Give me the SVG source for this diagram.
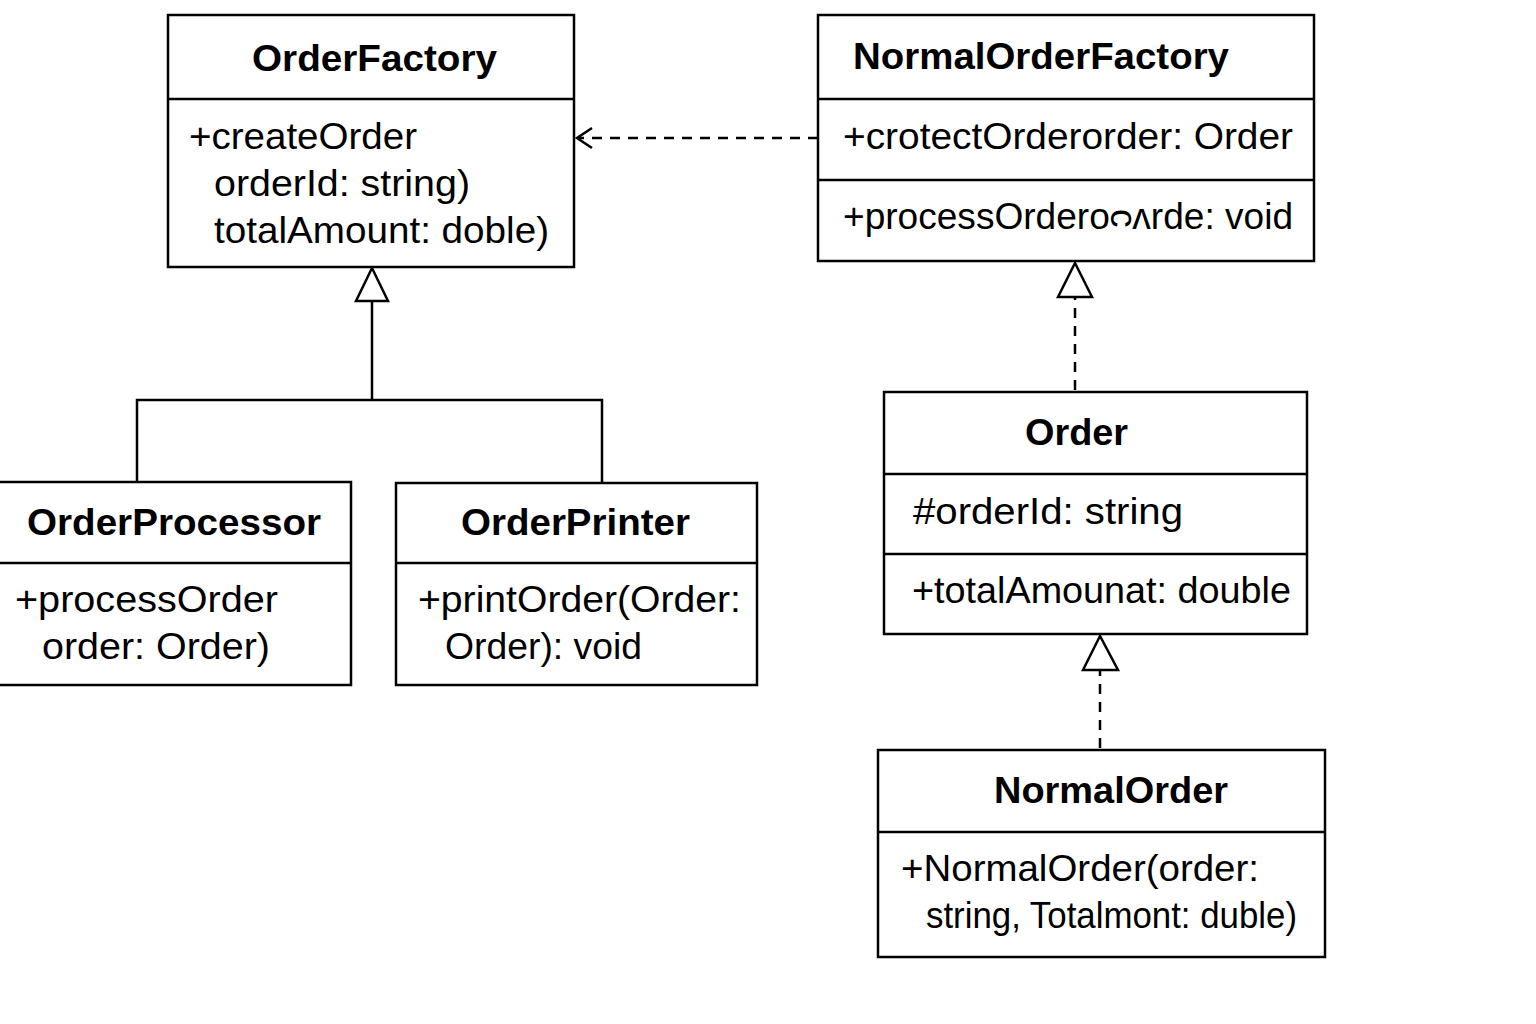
<svg xmlns="http://www.w3.org/2000/svg" width="1536" height="1024" viewBox="0 0 1536 1024">
<defs>
<style>
.box{fill:#fff;stroke:#000;stroke-width:2.5}
.div{stroke:#000;stroke-width:2.5}
.t{font-family:"Liberation Sans",Arial,sans-serif;font-size:36px;font-weight:bold;fill:#000}
.m{font-family:"Liberation Sans",Arial,sans-serif;font-size:36px;fill:#000}
.ln{fill:none;stroke:#000;stroke-width:2.5}
.dash{fill:none;stroke:#000;stroke-width:2.5;stroke-dasharray:10 8}
.tri{fill:#fff;stroke:#000;stroke-width:2.5}
</style>
</defs>
<rect width="1536" height="1024" fill="#fff"/>
<g id="connectors">
<line class="dash" x1="818" y1="138" x2="578" y2="138"/>
<polyline class="ln" points="592,128 577,138 592,148"/>
<polyline class="ln" points="372,301 372,400"/>
<polyline class="ln" points="137,482 137,400 602,400 602,483"/>
<polygon class="tri" points="372,268 356,301 388,301"/>
<line class="dash" x1="1075" y1="390" x2="1075" y2="297"/>
<polygon class="tri" points="1075,263 1058,297 1092,297"/>
<line class="dash" x1="1100" y1="748" x2="1100" y2="670"/>
<polygon class="tri" points="1100,636 1083,670 1118,670"/>
</g>
<g id="OrderFactory">
<rect class="box" x="168" y="15" width="406" height="252"/>
<line class="div" x1="168" y1="99" x2="574" y2="99"/>
<text class="t" x="252" y="71" textLength="245" lengthAdjust="spacingAndGlyphs">OrderFactory</text>
<text class="m" x="189" y="149" textLength="228" lengthAdjust="spacingAndGlyphs">+createOrder</text>
<text class="m" x="214" y="196" textLength="256" lengthAdjust="spacingAndGlyphs">orderId: string)</text>
<text class="m" x="214" y="243" textLength="335" lengthAdjust="spacingAndGlyphs">totalAmount: doble)</text>
</g>
<g id="NormalOrderFactory">
<rect class="box" x="818" y="15" width="496" height="246"/>
<line class="div" x1="818" y1="99" x2="1314" y2="99"/>
<line class="div" x1="818" y1="180" x2="1314" y2="180"/>
<text class="t" x="853" y="69" textLength="376" lengthAdjust="spacingAndGlyphs">NormalOrderFactory</text>
<text class="m" x="843" y="149" textLength="450" lengthAdjust="spacingAndGlyphs">+crotectOrderorder: Order</text>
<text class="m" x="843" y="229" textLength="450" lengthAdjust="spacingAndGlyphs">+processOrderoᴒᴧrde: void</text>
</g>
<g id="OrderProcessor">
<rect class="box" x="-2" y="482" width="353" height="203"/>
<line class="div" x1="0" y1="563" x2="351" y2="563"/>
<text class="t" x="27" y="535" textLength="294" lengthAdjust="spacingAndGlyphs">OrderProcessor</text>
<text class="m" x="15" y="612" textLength="263" lengthAdjust="spacingAndGlyphs">+processOrder</text>
<text class="m" x="42" y="659" textLength="228" lengthAdjust="spacingAndGlyphs">order: Order)</text>
</g>
<g id="OrderPrinter">
<rect class="box" x="396" y="483" width="361" height="202"/>
<line class="div" x1="396" y1="563" x2="757" y2="563"/>
<text class="t" x="461" y="535" textLength="229" lengthAdjust="spacingAndGlyphs">OrderPrinter</text>
<text class="m" x="418" y="612" textLength="323" lengthAdjust="spacingAndGlyphs">+printOrder(Order:</text>
<text class="m" x="445" y="659" textLength="197" lengthAdjust="spacingAndGlyphs">Order): void</text>
</g>
<g id="Order">
<rect class="box" x="884" y="392" width="423" height="242"/>
<line class="div" x1="884" y1="474" x2="1307" y2="474"/>
<line class="div" x1="884" y1="554" x2="1307" y2="554"/>
<text class="t" x="1025" y="445" textLength="103" lengthAdjust="spacingAndGlyphs">Order</text>
<text class="m" x="913" y="524" textLength="270" lengthAdjust="spacingAndGlyphs">#orderId: string</text>
<text class="m" x="912" y="603" textLength="379" lengthAdjust="spacingAndGlyphs">+totalAmounat: double</text>
</g>
<g id="NormalOrder">
<rect class="box" x="878" y="750" width="447" height="207"/>
<line class="div" x1="878" y1="832" x2="1325" y2="832"/>
<text class="t" x="994" y="803" textLength="234" lengthAdjust="spacingAndGlyphs">NormalOrder</text>
<text class="m" x="901" y="881" textLength="358" lengthAdjust="spacingAndGlyphs">+NormalOrder(order:</text>
<text class="m" x="926" y="928" textLength="371" lengthAdjust="spacingAndGlyphs">string, Totalmont: duble)</text>
</g>
</svg>
